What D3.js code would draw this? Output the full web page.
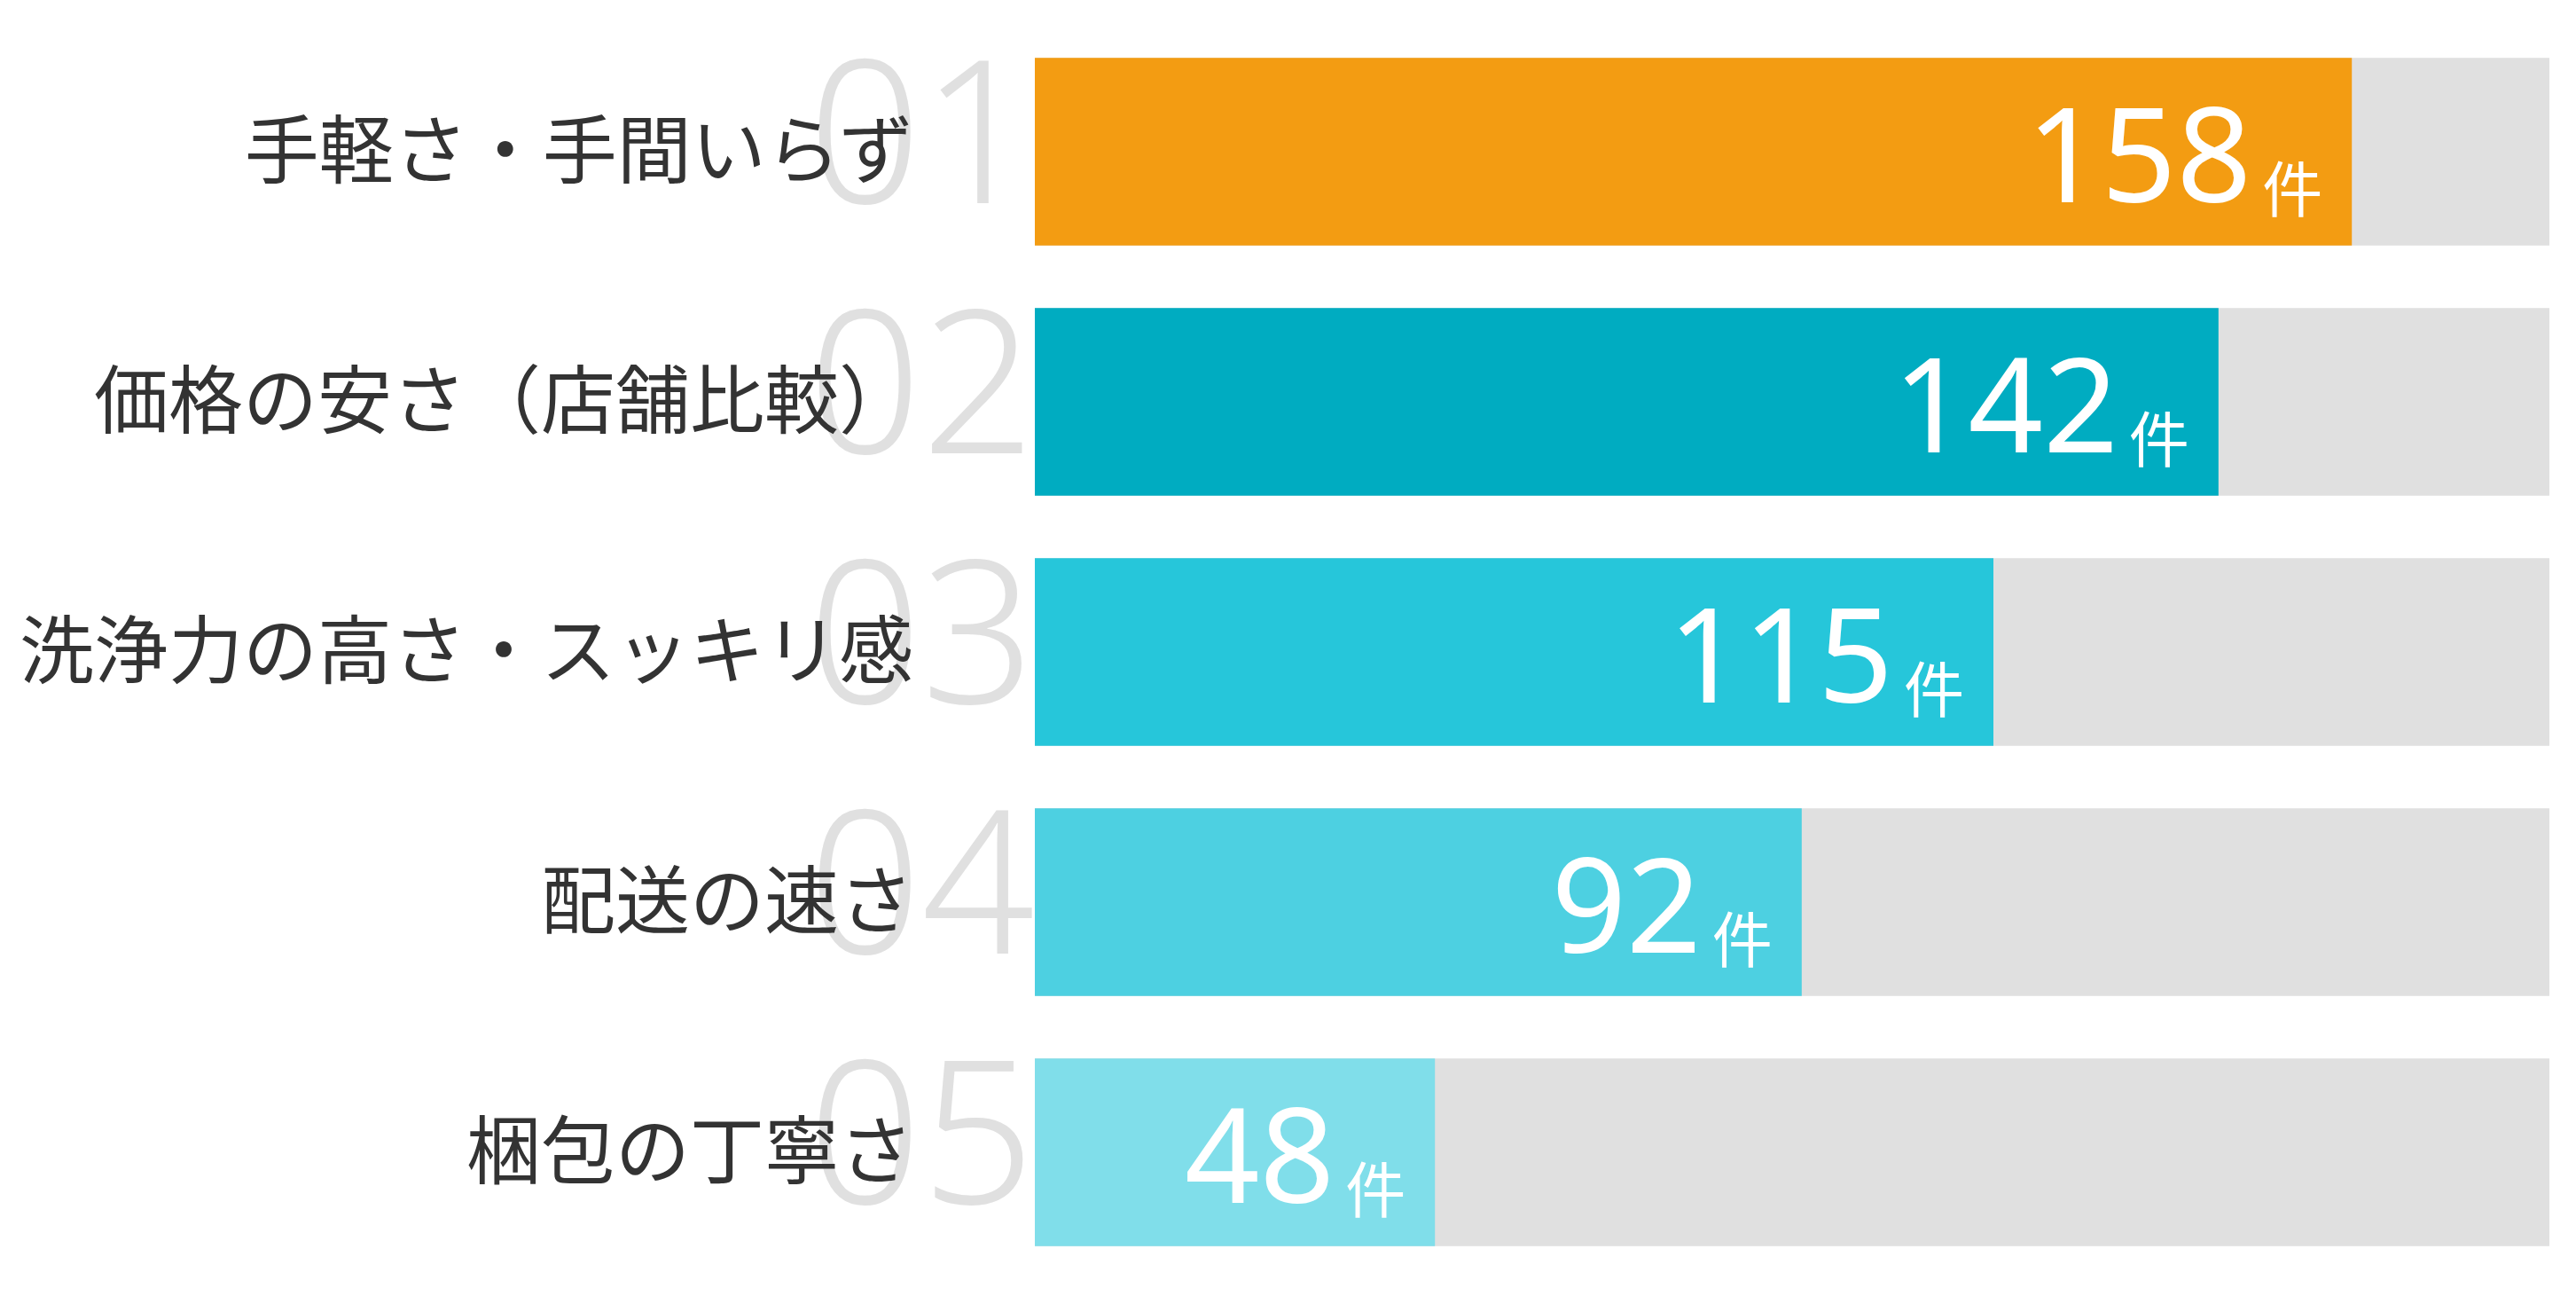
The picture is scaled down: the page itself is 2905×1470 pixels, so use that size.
<!DOCTYPE html>
<html lang="ja">
<head>
<meta charset="utf-8">
<script src="https://cdn.jsdelivr.net/npm/d3@7"></script>
<style>
  html, body { margin: 0; padding: 0; background: #fff; }
  #chart { width: 2905px; height: 1470px; }
  .label { font-family: "Noto Sans CJK JP", sans-serif; font-weight: 400; fill: #333; }
  .rank { font-family: "Noto Sans", sans-serif; font-weight: 300; fill: #e0e0e0; }
  .value { font-family: "Noto Sans", "Noto Sans CJK JP", sans-serif; font-weight: 400; fill: #fff; }
  .value .unit { font-family: "Noto Sans CJK JP", sans-serif; }
</style>
</head>
<body>
<div id="chart"></div>
<script>
const categories = ["手軽さ・手間いらず", "価格の安さ（店舗比較）", "洗浄力の高さ・スッキリ感", "配送の速さ", "梱包の丁寧さ"];
const counts = [158, 142, 115, 92, 48];
const ranks = ["01", "02", "03", "04", "05"];
const barColors = ["#f39c12", "#00acc1", "#26c6da", "#4dd0e1", "#80deea"];
const unit = "件";

const data = categories.map((name, i) => ({
  name,
  count: counts[i],
  rank: ranks[i],
  color: barColors[i]
}));

const width = 2905;
const height = 1470;
const margin = { top: 30, right: 30, bottom: 30, left: 1167 };

const svg = d3.select("#chart")
  .append("svg")
  .attr("width", width)
  .attr("height", height)
  .attr("viewBox", `0 0 ${width} ${height}`);

const x = d3.scaleLinear()
  .domain([0, d3.max(counts) * 1.15])
  .range([margin.left, width - margin.right]);

const y = d3.scaleBand()
  .domain(categories)
  .range([margin.top, height - margin.bottom])
  .paddingInner(0.25)
  .paddingOuter(0.125);

const row = svg.selectAll(".row")
  .data(data)
  .join("g")
  .attr("class", "row");

// big rank numbers sit behind the labels
row.append("text")
  .attr("class", "rank")
  .attr("x", margin.left)
  .attr("y", (d) => y(d.name) + y.bandwidth() / 2 + 58)
  .attr("text-anchor", "end")
  .attr("font-size", 224)
  .text((d) => d.rank);

row.append("text")
  .attr("class", "label")
  .attr("x", 1030)
  .attr("y", (d) => y(d.name) + y.bandwidth() / 2 - 8)
  .attr("text-anchor", "end")
  .attr("dominant-baseline", "central")
  .attr("font-size", 84)
  .text((d) => d.name);

row.append("rect")
  .attr("x", x(0))
  .attr("y", (d) => y(d.name))
  .attr("width", x.range()[1] - x(0))
  .attr("height", y.bandwidth())
  .attr("fill", "#e0e0e0");

row.append("rect")
  .attr("x", x(0))
  .attr("y", (d) => y(d.name))
  .attr("width", (d) => x(d.count) - x(0))
  .attr("height", y.bandwidth())
  .attr("fill", (d) => d.color);

const value = row.append("text")
  .attr("class", "value")
  .attr("x", (d) => x(d.count) - 33)
  .attr("y", (d) => y(d.name) + y.bandwidth() / 2 + 57)
  .attr("text-anchor", "end");

value.append("tspan")
  .attr("font-size", 148)
  .text((d) => d.count);

value.append("tspan")
  .attr("class", "unit")
  .attr("font-size", 68)
  .attr("dx", 12)
  .attr("dy", 11)
  .text(unit);
</script>
</body>
</html>
